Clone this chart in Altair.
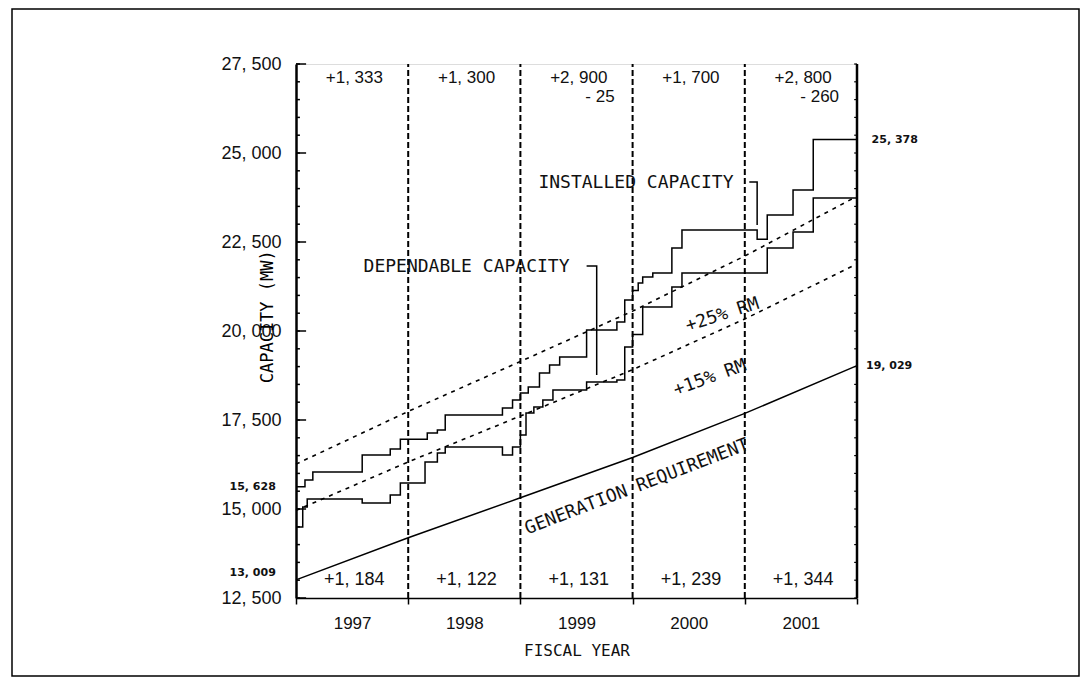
import altair as alt
import pandas as pd

# ---------------- data ----------------
years = ["1997", "1998", "1999", "2000", "2001"]
bounds = [0, 1, 2, 3, 4, 5]

# generation requirement at the fiscal-year boundaries (MW)
gen_req = [13009, 14193, 15315, 16446, 17685, 19029]
rm15 = [14960, 16322, 17612, 18913, 20338, 21883]
rm25 = [16261, 17741, 19144, 20558, 22106, 23786]

# installed capacity (step line): position in years from start of FY1997, MW
inst_t = [0.0, 0.08, 0.15, 0.59, 0.84, 0.93, 1.17, 1.26, 1.33, 1.84, 1.93, 2.0, 2.07, 2.17,
          2.26, 2.35, 2.59, 2.86, 2.93, 3.0, 3.05, 3.09, 3.18, 3.35, 3.44, 4.11, 4.2, 4.43,
          4.61, 5.0]
inst_v = [15628, 15815, 16040, 16517, 16685, 16961, 17135, 17219, 17640, 17837, 18062, 18261,
          18427, 18820, 19045, 19270, 20028, 20253, 20871, 21136, 21348, 21517, 21629, 22331,
          22836, 22576, 23258, 23961, 25378, 25378]

# dependable capacity (step line)
dep_t = [0.0, 0.06, 0.10, 0.59, 0.84, 0.93, 1.15, 1.26, 1.33, 1.84, 1.93, 2.0, 2.05, 2.12,
         2.2, 2.29, 2.59, 2.86, 2.93, 3.0, 3.09, 3.35, 3.44, 4.2, 4.43, 4.61, 5.0]
dep_v = [14494, 15056, 15281, 15168, 15393, 15730, 16320, 16573, 16740, 16517, 16740, 17079,
         17697, 17865, 18062, 18343, 18568, 18624, 19551, 19900, 20674, 21236, 21629, 22331,
         22781, 23736, 23736]

# capacity additions per year (top) and requirement growth (bottom)
add_top = ["+1, 333", "+1, 300", "+2, 900", "+1, 700", "+2, 800"]
retire_top = ["", "", "- 25", "", "- 260"]
req_growth = ["+1, 184", "+1, 122", "+1, 131", "+1, 239", "+1, 344"]

y_ticks = [12500, 15000, 17500, 20000, 22500, 25000, 27500]
y_minor = list(range(12500, 27501, 500))

# ---------------- scales & axes ----------------
XS = alt.Scale(domain=[0, 5], nice=False, zero=False)
YS = alt.Scale(domain=[12500, 27500], nice=False, zero=False)
FONT = "Liberation Sans"
MONO = "DejaVu Sans Mono"

x_axis = alt.Axis(
    values=[0, 0.5, 1, 1.5, 2, 2.5, 3, 3.5, 4, 4.5, 5],
    labelExpr="datum.value % 1 === 0 ? '' : '' + (1997 + floor(datum.value))",
    tickColor={"condition": {"test": "datum.value % 1 === 0", "value": "black"}, "value": "transparent"},
    tickSize=6, tickWidth=1.5, domainColor="black", domainWidth=1.5,
    labelFont=FONT, labelFontSize=17, labelColor="#111", labelPadding=11,
    title="FISCAL YEAR", titleFont=MONO, titleFontSize=16, titleFontWeight="normal",
    titleColor="#111", titlePadding=11, grid=False,
)
y_axis = alt.Axis(
    values=y_ticks,
    labelExpr="replace(format(datum.value, ','), ',', ', ')",
    ticks=False, domainColor="black", domainWidth=2.5,
    labelFont=FONT, labelFontSize=18, labelColor="#111", labelPadding=15,
    title=None, grid=False,
)


def X(field="t"):
    return alt.X(field, type="quantitative", scale=XS, axis=x_axis)


def Yq(field="v"):
    return alt.Y(field, type="quantitative", scale=YS, axis=y_axis)


# right border
rdf = pd.DataFrame({"t": [5], "v": [12500], "v2": [27500]})
right = alt.Chart(rdf).mark_rule(color="black", strokeWidth=2.5).encode(
    x=X("t"), y=Yq("v"), y2="v2")

# year boundary dashed lines
bdf = pd.DataFrame({"t": bounds[1:5], "v": [12500] * 4, "v2": [27500] * 4})
yearlines = alt.Chart(bdf).mark_rule(color="black", strokeWidth=2, strokeDash=[6, 3]).encode(
    x=X("t"), y=Yq("v"), y2="v2")

# inward ticks on left & right
major_df = pd.DataFrame({"t": [0] * len(y_ticks), "t2": [0.09] * len(y_ticks), "v": y_ticks})
minor_df = pd.DataFrame({"t": [0] * len(y_minor), "t2": [0.035] * len(y_minor), "v": y_minor})
minor_r = pd.DataFrame({"t": [5] * len(y_minor), "t2": [4.975] * len(y_minor), "v": y_minor})
ticks_major = alt.Chart(major_df).mark_rule(color="black", strokeWidth=1.5).encode(
    x=X("t"), x2="t2", y=Yq("v"))
ticks_minor = alt.Chart(minor_df).mark_rule(color="black", strokeWidth=1.5).encode(
    x=X("t"), x2="t2", y=Yq("v"))
ticks_minor_r = alt.Chart(minor_r).mark_rule(color="black", strokeWidth=1.2).encode(
    x=X("t"), x2="t2", y=Yq("v"))

# requirement and reserve margin lines
gdf = pd.DataFrame({"t": bounds, "gen": gen_req, "r15": rm15, "r25": rm25})
gen_line = alt.Chart(gdf).mark_line(color="black", strokeWidth=1.5).encode(
    x=X("t"), y=Yq("gen"))
r15_line = alt.Chart(gdf).mark_line(color="black", strokeWidth=1.6, strokeDash=[4, 5]).encode(
    x=X("t"), y=Yq("r15"))
r25_line = alt.Chart(gdf).mark_line(color="black", strokeWidth=1.6, strokeDash=[4, 5]).encode(
    x=X("t"), y=Yq("r25"))

# step lines
idf = pd.DataFrame({"t": inst_t, "v": inst_v})
ddf = pd.DataFrame({"t": dep_t, "v": dep_v})
inst_line = alt.Chart(idf).mark_line(color="black", strokeWidth=1.5, interpolate="step-after").encode(
    x=X("t"), y=Yq("v"))
dep_line = alt.Chart(ddf).mark_line(color="black", strokeWidth=1.5, interpolate="step-after").encode(
    x=X("t"), y=Yq("v"))

# leaders for the two labels
ldf = pd.DataFrame({
    "t": [2.59, 2.68, 2.68, 4.04, 4.11, 4.11],
    "v": [21826, 21826, 18764, 24185, 24185, 22978],
    "g": ["d", "d", "d", "i", "i", "i"],
    "o": [0, 1, 2, 0, 1, 2],
})
leaders = alt.Chart(ldf).mark_line(color="black", strokeWidth=1.5).encode(
    x=X("t"), y=Yq("v"), detail="g", order="o")

# top / bottom annotations
tdf = pd.DataFrame({"t": [0.52, 1.52, 2.52, 3.52, 4.52], "v": [27100] * 5, "s": add_top})
top_txt = alt.Chart(tdf).mark_text(font=FONT, fontSize=17, color="#111", baseline="middle").encode(
    x=X("t"), y=Yq("v"), text="s")
rdf2 = pd.DataFrame({"t": [2.84, 4.84], "v": [26580] * 2, "s": [retire_top[2], retire_top[4]]})
ret_txt = alt.Chart(rdf2).mark_text(font=FONT, fontSize=17, color="#111", baseline="middle",
                                    align="right").encode(x=X("t"), y=Yq("v"), text="s")
bdf2 = pd.DataFrame({"t": [0.52, 1.52, 2.52, 3.52, 4.52], "v": [13010] * 5, "s": req_growth})
bot_txt = alt.Chart(bdf2).mark_text(font=FONT, fontSize=18, color="#111", baseline="middle").encode(
    x=X("t"), y=Yq("v"), text="s")

# value labels at ends
edf = pd.DataFrame({
    "t": [5.13, 5.08, -0.18, -0.18],
    "v": [25378, 19029, 15628, 13200],
    "s": ["25, 378", "19, 029", "15, 628", "13, 009"],
    "a": ["left", "left", "right", "right"],
})
end_l = alt.Chart(edf[edf.a == "left"]).mark_text(
    font="DejaVu Sans", fontSize=11, fontWeight="bold", color="#111", align="left",
    baseline="middle").encode(x=X("t"), y=Yq("v"), text="s")
end_r = alt.Chart(edf[edf.a == "right"]).mark_text(
    font="DejaVu Sans", fontSize=11, fontWeight="bold", color="#111", align="right",
    baseline="middle").encode(x=X("t"), y=Yq("v"), text="s")

# curve labels
cdf = pd.DataFrame({
    "t": [1.52, 3.03],
    "v": [21798, 24157],
    "s": ["DEPENDABLE CAPACITY", "INSTALLED CAPACITY"],
})
curve_txt = alt.Chart(cdf).mark_text(font=MONO, fontSize=18, color="#111", baseline="middle").encode(
    x=X("t"), y=Yq("v"), text="s")
gen_txt = alt.Chart(pd.DataFrame({"t": [3.04], "v": [15618], "s": ["GENERATION REQUIREMENT"]})).mark_text(
    font=MONO, fontSize=18, color="#111", baseline="middle", angle=339).encode(
    x=X("t"), y=Yq("v"), text="s")
r25_txt = alt.Chart(pd.DataFrame({"t": [3.80], "v": [20449], "s": ["+25% RM"]})).mark_text(
    font=MONO, fontSize=18, color="#111", baseline="middle", angle=342).encode(
    x=X("t"), y=Yq("v"), text="s")
r15_txt = alt.Chart(pd.DataFrame({"t": [3.69], "v": [18680], "s": ["+15% RM"]})).mark_text(
    font=MONO, fontSize=18, color="#111", baseline="middle", angle=340).encode(
    x=X("t"), y=Yq("v"), text="s")
ytitle = alt.Chart(pd.DataFrame({"t": [-0.25], "v": [20400], "s": ["CAPACITY  (MW)"]})).mark_text(
    font=MONO, fontSize=17, color="black", baseline="middle", angle=270).encode(
    x=X("t"), y=Yq("v"), text="s")

# outer frame of the figure (decoration)
frame = alt.Chart(pd.DataFrame({"a": [0]})).mark_rect(
    fill="transparent", stroke="black", strokeWidth=1.5).encode(
    x=alt.value(-284), x2=alt.value(783), y=alt.value(-55), y2=alt.value(612))

chart = alt.layer(
    frame, yearlines, right, ticks_major, ticks_minor, ticks_minor_r,
    gen_line, r15_line, r25_line, inst_line, dep_line, leaders,
    top_txt, ret_txt, bot_txt, end_l, end_r, curve_txt, gen_txt, r25_txt, r15_txt, ytitle,
).properties(
    width=561, height=534,
    autosize=alt.AutoSizeParams(type="none"),
    padding={"left": 288, "top": 56, "right": 226, "bottom": 82},
).configure_view(stroke=None).configure(background="white")

chart.save("out.html", embed_options={"renderer": "svg", "actions": False})
